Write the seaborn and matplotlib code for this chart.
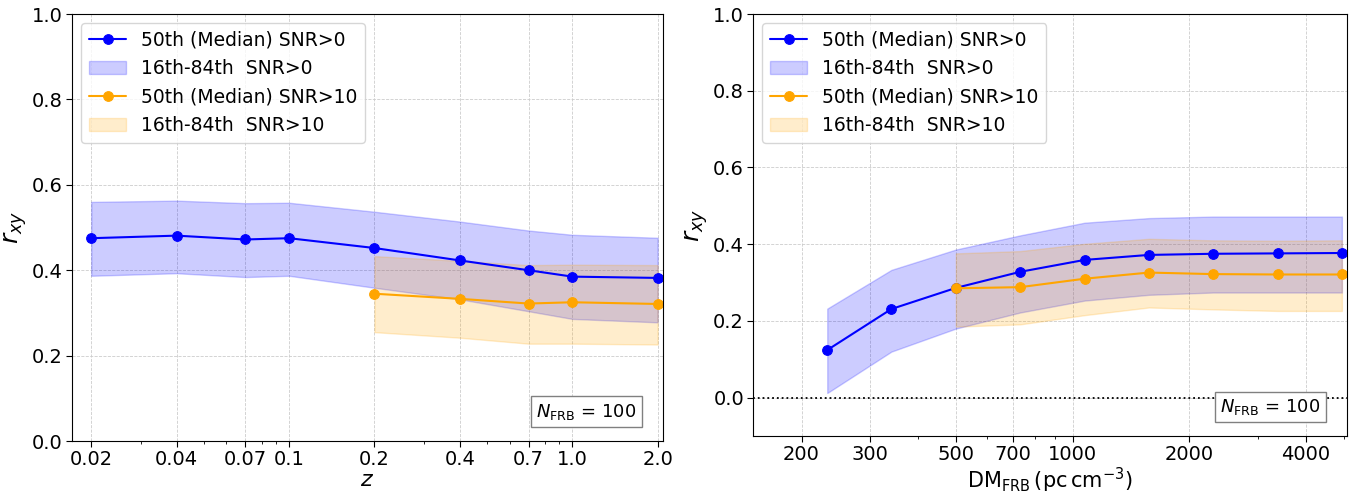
import matplotlib

matplotlib.use("Agg")
import matplotlib.pyplot as plt
import numpy as np
import pandas as pd
import seaborn as sns
from matplotlib.ticker import FixedLocator, FixedFormatter, NullFormatter

# redshift bins
z = [0.02, 0.04, 0.07, 0.1, 0.2, 0.4, 0.7, 1.0, 2.0]
z_tick_labels = ["0.02", "0.04", "0.07", "0.1", "0.2", "0.4", "0.7", "1.0", "2.0"]
z_med_all = [0.475, 0.481, 0.472, 0.475, 0.452, 0.423, 0.400, 0.385, 0.382]
z_lo_all = [0.387, 0.393, 0.384, 0.387, 0.359, 0.332, 0.304, 0.286, 0.278]
z_hi_all = [0.560, 0.563, 0.557, 0.558, 0.537, 0.514, 0.493, 0.483, 0.476]
z_snr10 = [0.2, 0.4, 0.7, 1.0, 2.0]
z_med_10 = [0.345, 0.333, 0.322, 0.325, 0.321]
z_lo_10 = [0.255, 0.242, 0.228, 0.228, 0.226]
z_hi_10 = [0.433, 0.422, 0.412, 0.413, 0.412]

# DM bins
dm = [233, 341, 500, 733, 1074, 1573, 2305, 3377, 4947]
dm_ticks = [200, 300, 500, 700, 1000, 2000, 4000]
dm_med_all = [0.124, 0.231, 0.286, 0.328, 0.359, 0.372, 0.375, 0.376, 0.377]
dm_lo_all = [0.012, 0.120, 0.180, 0.222, 0.253, 0.268, 0.274, 0.274, 0.274]
dm_hi_all = [0.232, 0.333, 0.386, 0.423, 0.456, 0.468, 0.472, 0.472, 0.472]
dm_snr10 = [500, 733, 1074, 1573, 2305, 3377, 4947]
dm_med_10 = [0.285, 0.288, 0.310, 0.326, 0.322, 0.321, 0.321]
dm_lo_10 = [0.185, 0.191, 0.215, 0.235, 0.230, 0.226, 0.226]
dm_hi_10 = [0.376, 0.382, 0.401, 0.414, 0.410, 0.409, 0.410]

n_frb = 100

sns.set_style(
    "ticks",
    {
        "axes.edgecolor": "black",
        "xtick.color": "black",
        "ytick.color": "black",
        "text.color": "black",
        "axes.labelcolor": "black",
    },
)
plt.rcParams["font.family"] = ["DejaVu Sans"]
plt.rcParams["mathtext.fontset"] = "dejavusans"


def draw_panel(ax, x, med, lo, hi, x10, med10, lo10, hi10):
    df_all = pd.DataFrame({"x": x, "y": med})
    df_10 = pd.DataFrame({"x": x10, "y": med10})

    band0 = ax.fill_between(x, lo, hi, color="blue", alpha=0.2, lw=1)
    sns.lineplot(
        data=df_all, x="x", y="y", ax=ax, color="blue", marker="o",
        markersize=7, markeredgecolor="blue", lw=1.5, legend=False,
    )
    band10 = ax.fill_between(x10, lo10, hi10, color="orange", alpha=0.2, lw=1)
    sns.lineplot(
        data=df_10, x="x", y="y", ax=ax, color="orange", marker="o",
        markersize=7, markeredgecolor="orange", lw=1.5, legend=False,
    )
    line0, line10 = ax.lines[-2], ax.lines[-1]
    ax.legend(
        [line0, band0, line10, band10],
        [
            "50th (Median) SNR>0",
            "16th-84th  SNR>0",
            "50th (Median) SNR>10",
            "16th-84th  SNR>10",
        ],
        loc="upper left",
        fontsize=13.5,
    )
    ax.set_xscale("log")
    ax.grid(True, which="major", ls="--", lw=0.6, color="#cccccc")
    ax.tick_params(axis="both", which="major", labelsize=14, length=4, pad=2.5)
    ax.xaxis.set_minor_formatter(NullFormatter())
    ax.set_ylabel(r"$r_{xy}$", fontsize=18, labelpad=2)
    ax.text(
        0.955, 0.045, r"$N_{\rm FRB}$ = %d" % n_frb, transform=ax.transAxes,
        ha="right", va="bottom", fontsize=13,
        bbox=dict(facecolor="white", edgecolor="gray", boxstyle="square,pad=0.3"),
    )


fig = plt.figure(figsize=(13.66, 4.95), dpi=100)
ax1 = fig.add_axes([0.0527, 0.109, 0.4327, 0.8627])
ax2 = fig.add_axes([0.5513, 0.1192, 0.4348, 0.8525])

draw_panel(ax1, z, z_med_all, z_lo_all, z_hi_all, z_snr10, z_med_10, z_lo_10, z_hi_10)
ax1.set_xlim(0.0171, 2.09)
ax1.set_ylim(0.0, 1.0)
ax1.xaxis.set_major_locator(FixedLocator(z))
ax1.xaxis.set_major_formatter(FixedFormatter(z_tick_labels))
ax1.set_yticks(np.arange(0, 1.01, 0.2))
ax1.set_xlabel(r"$z$", fontsize=16, labelpad=1)

draw_panel(ax2, dm, dm_med_all, dm_lo_all, dm_hi_all, dm_snr10, dm_med_10, dm_lo_10, dm_hi_10)
ax2.axhline(0.0, color="black", ls=":", lw=1.3)
ax2.set_xlim(150, 5100)
ax2.set_ylim(-0.1, 1.0)
ax2.xaxis.set_major_locator(FixedLocator(dm_ticks))
ax2.xaxis.set_major_formatter(FixedFormatter([str(t) for t in dm_ticks]))
ax2.set_yticks(np.arange(0, 1.01, 0.2))
ax2.set_xlabel(r"DM$_{\rm FRB}\,(\rm pc\,cm^{-3})$", fontsize=15, labelpad=1)

fig.savefig("out.png", dpi=100)
